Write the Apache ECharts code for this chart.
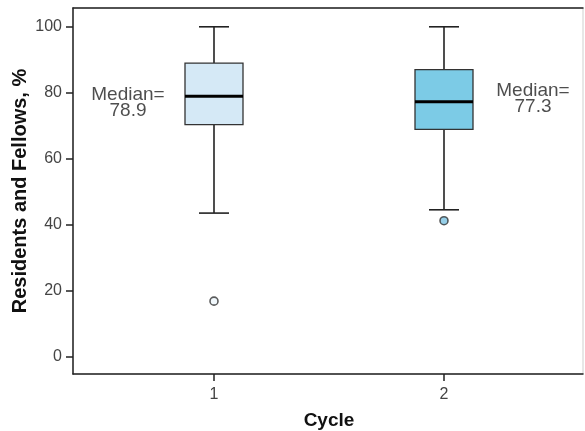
<!DOCTYPE html>
<html>
<head>
<meta charset="utf-8">
<script src="https://cdn.jsdelivr.net/npm/echarts@6/dist/echarts.min.js"></script>
<style>html,body{margin:0;padding:0;background:#fff}#c{width:585px;height:431px}</style>
</head>
<body>
<div id="c"></div>
<script>
// ---- data ----
var cycles = ['1', '2'];
var whiskerLow  = [43.5, 44.5];
var q1          = [70.3, 68.9];
var medians     = [78.9, 77.3];
var q3          = [89.0, 87.0];
var whiskerHigh = [100, 100];
var outlierCycle = [0, 1];
var outlierValue = [16.8, 41.2];
var yTicks = [0, 20, 40, 60, 80, 100];

// ---- styles ----
var boxFills = ['#d5e9f6', '#7ccbe6'];
var outlierFills = ['#eef6fb', '#7cc3e2'];
var medianLabelOffsets = [[-86, 6], [89, -3]];
var FONT = "Arial, 'Liberation Sans', sans-serif";

var boxData = cycles.map(function (c, i) {
  return [i, whiskerLow[i], q1[i], medians[i], q3[i], whiskerHigh[i]];
});
var outlierData = outlierValue.map(function (v, i) {
  return { value: [outlierCycle[i], v], itemStyle: { color: outlierFills[outlierCycle[i]] } };
});
var medianData = medians.map(function (m, i) {
  return {
    value: [i, m],
    label: { offset: medianLabelOffsets[i] }
  };
});

var chart = echarts.init(document.getElementById('c'), null, { renderer: 'canvas' });
var yMin = -5.3, yMax = 105.7;

chart.setOption({
  animation: false,
  backgroundColor: '#ffffff',
  grid: [
    { left: 73, right: 2, top: 8, bottom: 57, show: true, borderColor: '#cfcfcf', borderWidth: 1, backgroundColor: '#fff', containLabel: false, outerBoundsMode: 'none' },
    { left: 99, right: 26, top: 8, bottom: 57, containLabel: false, outerBoundsMode: 'none' }
  ],
  xAxis: [
    { gridIndex: 0, type: 'value', min: 0, max: 1, position: 'bottom',
      axisLine: { show: true, onZero: false, lineStyle: { color: '#222', width: 1.5 } },
      axisTick: { show: false }, axisLabel: { show: false }, splitLine: { show: false } },
    { gridIndex: 0, type: 'value', min: 0, max: 1, position: 'top',
      axisLine: { show: true, onZero: false, lineStyle: { color: '#222', width: 1.5 } },
      axisTick: { show: false }, axisLabel: { show: false }, splitLine: { show: false } },
    { gridIndex: 1, type: 'category', data: cycles, position: 'bottom',
      axisLine: { show: false, onZero: false },
      axisTick: { show: true, alignWithLabel: true, length: 7, lineStyle: { color: '#222', width: 1.5 } },
      axisLabel: { margin: 13, fontSize: 16, color: '#444', fontFamily: FONT },
      name: 'Cycle', nameLocation: 'middle', nameGap: 37, nameMoveOverlap: false,
      nameTextStyle: { fontSize: 19, fontWeight: 'bold', color: '#111', fontFamily: FONT } }
  ],
  yAxis: [
    { gridIndex: 0, type: 'value', min: yMin, max: yMax,
      axisLine: { show: true, onZero: false, lineStyle: { color: '#222', width: 1.5 } },
      axisTick: { show: true, length: 7, customValues: yTicks, lineStyle: { color: '#222', width: 1.5 } },
      axisLabel: { customValues: yTicks, margin: 11, fontSize: 16, color: '#444', fontFamily: FONT },
      splitLine: { show: false },
      name: 'Residents and Fellows, %', nameLocation: 'middle', nameGap: 43, nameRotate: 90, nameMoveOverlap: false,
      nameTextStyle: { fontSize: 20, fontWeight: 'bold', color: '#111', fontFamily: FONT } },
    { gridIndex: 1, type: 'value', min: yMin, max: yMax, show: false }
  ],
  series: [
    {
      type: 'custom', xAxisIndex: 2, yAxisIndex: 1,
      data: boxData,
      encode: { x: 0, y: [1, 2, 3, 4, 5] },
      renderItem: function (params, api) {
        var i = api.value(0);
        var pLow = api.coord([i, api.value(1)]);
        var pQ1 = api.coord([i, api.value(2)]);
        var pMed = api.coord([i, api.value(3)]);
        var pQ3 = api.coord([i, api.value(4)]);
        var pHigh = api.coord([i, api.value(5)]);
        var x = pMed[0];
        var halfBox = 29, halfCap = 15;
        var stroke = '#222';
        return {
          type: 'group',
          children: [
            { type: 'line', shape: { x1: x, y1: pHigh[1], x2: x, y2: pQ3[1] }, style: { stroke: stroke, lineWidth: 1.6 } },
            { type: 'line', shape: { x1: x, y1: pQ1[1], x2: x, y2: pLow[1] }, style: { stroke: stroke, lineWidth: 1.6 } },
            { type: 'line', shape: { x1: x - halfCap, y1: pHigh[1], x2: x + halfCap, y2: pHigh[1] }, style: { stroke: stroke, lineWidth: 1.6 } },
            { type: 'line', shape: { x1: x - halfCap, y1: pLow[1], x2: x + halfCap, y2: pLow[1] }, style: { stroke: stroke, lineWidth: 1.6 } },
            { type: 'rect', shape: { x: x - halfBox, y: pQ3[1], width: halfBox * 2, height: pQ1[1] - pQ3[1] },
              style: { fill: boxFills[i], stroke: '#333', lineWidth: 1.3 } },
            { type: 'line', shape: { x1: x - halfBox, y1: pMed[1], x2: x + halfBox, y2: pMed[1] }, style: { stroke: '#000', lineWidth: 3 } }
          ]
        };
      }
    },
    {
      type: 'scatter', xAxisIndex: 2, yAxisIndex: 1,
      data: outlierData, symbol: 'circle', symbolSize: 8,
      itemStyle: { borderColor: '#333', borderWidth: 1.6 }
    },
    {
      type: 'scatter', xAxisIndex: 2, yAxisIndex: 1,
      data: medianData, symbolSize: 0, silent: true,
      label: {
        show: true, position: 'inside', align: 'center', verticalAlign: 'middle',
        fontSize: 19, lineHeight: 16, color: '#222', fontFamily: FONT,
        formatter: function (p) { return 'Median=\n' + p.value[1].toFixed(1); }
      }
    }
  ]
});
</script>
</body>
</html>
